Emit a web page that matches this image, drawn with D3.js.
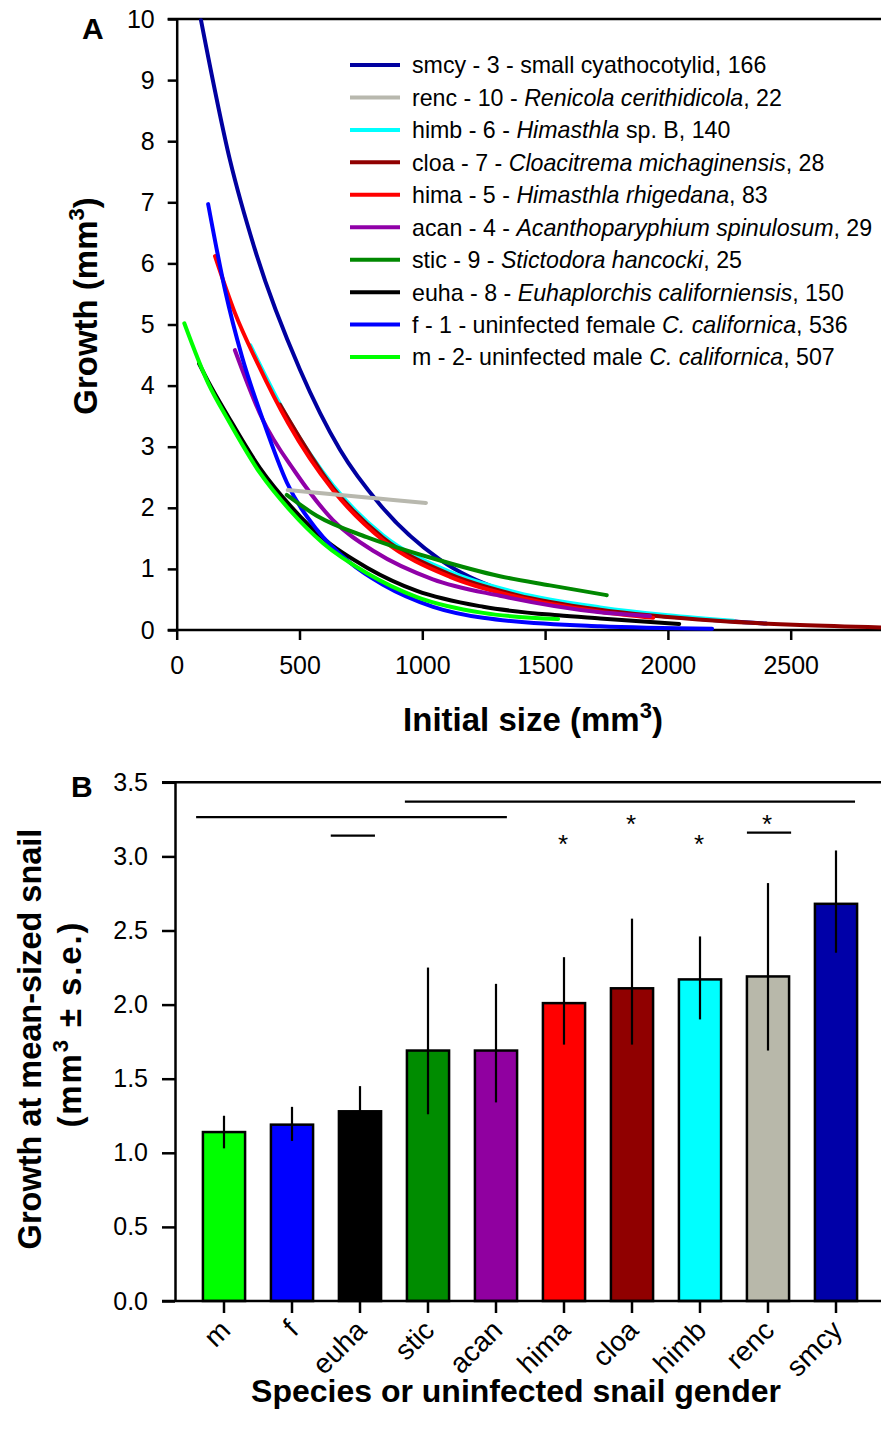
<!DOCTYPE html>
<html>
<head>
<meta charset="utf-8">
<script src="https://cdn.jsdelivr.net/npm/d3@7"></script>
<style>
  body { margin: 0; background: #fff; }
  svg { display: block; font-family: "Liberation Sans", Arial, sans-serif; }
</style>
</head>
<body>
<svg id="fig" width="881" height="1434"></svg>
<script>
// ---------------- Panel A data: fitted growth curves [initial size, growth] ----------------
const smcyCurve = [[99,9.98],[217,7.69],[319,6.22],[502,4.26],[665,2.95],[828,2.05],[1072,1.15],[1316,0.66],[1724,0.34],[2131,0.18],[2400,0.105]];
const rencCurve = [[452,2.29],[800,2.16],[1015,2.08]];
const himbCurve = [[300,4.66],[453,3.46],[636,2.37],[840,1.55],[1113,0.95],[1386,0.61],[1724,0.37],[2000,0.24],[2266,0.15]];
const cloaCurve = [[420,3.69],[636,2.33],[840,1.51],[1113,0.91],[1386,0.57],[1724,0.33],[2200,0.15],[2538,0.08],[2900,0.04]];
const himaCurve = [[156,6.12],[237,5.19],[331,4.35],[453,3.39],[636,2.29],[840,1.47],[1113,0.87],[1386,0.54],[1724,0.30],[1940,0.20]];
const acanCurve = [[237,4.58],[347,3.47],[482,2.59],[636,1.80],[807,1.28],[1043,0.83],[1316,0.56],[1724,0.29],[1927,0.23]];
const sticCurve = [[448,2.21],[570,1.87],[774,1.52],[1045,1.17],[1316,0.88],[1520,0.73],[1751,0.57]];
const euhaCurve = [[91,4.36],[128,4.07],[209,3.5],[339,2.65],[461,2.04],[596,1.5],[775,1.02],[978,0.64],[1248,0.38],[1553,0.24],[1724,0.19],[2046,0.10]];
const fCurve    = [[128,6.97],[197,5.56],[266,4.47],[351,3.44],[449,2.41],[571,1.64],[706,1.10],[840,0.74],[1044,0.38],[1247,0.20],[1724,0.06],[2180,0.02]];
const mCurve    = [[31,5.02],[128,4.04],[209,3.44],[339,2.57],[461,1.96],[596,1.42],[775,0.93],[978,0.54],[1248,0.28],[1553,0.18]];

// Legend order
const legendKeys = ["smcy","renc","himb","cloa","hima","acan","stic","euha","f","m"];
const seriesColors = {
  smcy: "#0000a0", renc: "#b8b8ae", himb: "#00ffff", cloa: "#900000", hima: "#ff0000",
  acan: "#9000a8", stic: "#008800", euha: "#000000", f: "#0000ff", m: "#00ff00"
};
const seriesCurves = {
  smcy: smcyCurve, renc: rencCurve, himb: himbCurve, cloa: cloaCurve, hima: himaCurve,
  acan: acanCurve, stic: sticCurve, euha: euhaCurve, f: fCurve, m: mCurve
};
// Painting order, bottom to top
const drawOrder = ["smcy","himb","cloa","hima","acan","euha","f","m","stic","renc"];

// Legend text pieces: [text, italic]
const legendLabels = [
  [["smcy - 3 - small cyathocotylid, 166", false]],
  [["renc - 10 - ", false], ["Renicola cerithidicola", true], [", 22", false]],
  [["himb - 6 - ", false], ["Himasthla", true], [" sp. B, 140", false]],
  [["cloa - 7 - ", false], ["Cloacitrema michaginensis", true], [", 28", false]],
  [["hima - 5 - ", false], ["Himasthla rhigedana", true], [", 83", false]],
  [["acan - 4 - ", false], ["Acanthoparyphium spinulosum", true], [", 29", false]],
  [["stic - 9 - ", false], ["Stictodora hancocki", true], [", 25", false]],
  [["euha - 8 - ", false], ["Euhaplorchis californiensis", true], [", 150", false]],
  [["f - 1 - uninfected female ", false], ["C. californica", true], [", 536", false]],
  [["m - 2- uninfected male ", false], ["C. californica", true], [", 507", false]]
];

const xTicksA = [0, 500, 1000, 1500, 2000, 2500];
const yTicksA = [0, 1, 2, 3, 4, 5, 6, 7, 8, 9, 10];

// ---------------- Panel B data: growth at mean-sized snail ----------------
const barCats   = ["m","f","euha","stic","acan","hima","cloa","himb","renc","smcy"];
const barMeans  = [1.14, 1.19, 1.28, 1.69, 1.69, 2.01, 2.11, 2.17, 2.19, 2.68];
const barErrHi  = [1.25, 1.31, 1.45, 2.25, 2.14, 2.32, 2.58, 2.46, 2.82, 3.04];
const barErrLo  = [1.03, 1.08, 1.11, 1.26, 1.34, 1.73, 1.73, 1.90, 1.69, 2.35];
const barColors = ["#00ff00","#0000ff","#000000","#008c00","#9000a0","#ff0000","#900000","#00ffff","#b8b8aa","#0000a8"];
const yTicksB   = [0, 0.5, 1.0, 1.5, 2.0, 2.5, 3.0, 3.5];

// Significance brackets (category index span) and asterisks
const sigFrom = [-0.41, 2.66, 1.57, 7.69];
const sigTo   = [4.16, 9.28, 2.22, 8.34];
const sigLevel = [3.265, 3.37, 3.14, 3.16];
const starCats = ["hima","cloa","himb","renc"];
const starLevel = [3.13, 3.26, 3.13, 3.26];

// ---------------- Drawing ----------------
const W = 881, H = 1434;
const svg = d3.select("#fig");
svg.append("rect").attr("width", W).attr("height", H).attr("fill", "#fff");

function styleAxis(g, fontSize) {
  g.selectAll("path.domain").attr("stroke", "#000").attr("stroke-width", 2.5);
  g.selectAll(".tick line").attr("stroke", "#000").attr("stroke-width", 2.5);
  g.selectAll(".tick text").attr("fill", "#000")
    .style("font-size", fontSize + "px")
    .style("font-family", '"Liberation Sans", Arial, sans-serif');
}

// ---- Panel A ----
const xA = d3.scaleLinear().domain([0, 3000]).range([176.7, 913.5]);
const yA = d3.scaleLinear().domain([0, 10]).range([630, 19]);

const gA = svg.append("g");

// frame lines running to the right edge
gA.append("line").attr("x1", xA(0) - 9).attr("x2", W).attr("y1", yA(10)).attr("y2", yA(10))
  .attr("stroke", "#000").attr("stroke-width", 2.5);
gA.append("line").attr("x1", xA(0) - 9).attr("x2", W).attr("y1", yA(0)).attr("y2", yA(0))
  .attr("stroke", "#000").attr("stroke-width", 2.5);

const yAxisA = gA.append("g").attr("transform", `translate(${xA(0)},0)`)
  .call(d3.axisLeft(yA).tickValues(yTicksA).tickSize(9).tickSizeOuter(0).tickPadding(13).tickFormat(d3.format("d")));
styleAxis(yAxisA, 25);

const xAxisA = gA.append("g").attr("transform", `translate(0,${yA(0)})`)
  .call(d3.axisBottom(xA).tickValues(xTicksA).tickSize(10).tickSizeOuter(0).tickPadding(16).tickFormat(d3.format("d")));
xAxisA.select("path.domain").remove();
styleAxis(xAxisA, 25);

// curves
const lineA = d3.line().x(d => xA(d[0])).y(d => yA(d[1])).curve(d3.curveMonotoneX);
gA.append("g").selectAll("path").data(drawOrder).join("path")
  .attr("d", k => lineA(seriesCurves[k]))
  .attr("fill", "none")
  .attr("stroke", k => seriesColors[k])
  .attr("stroke-width", 4)
  .attr("stroke-linecap", "round");

// legend
const legY0 = 65, legDy = 32.45;
const leg = gA.append("g");
legendKeys.forEach((k, i) => {
  const y = legY0 + i * legDy;
  leg.append("line").attr("x1", 350).attr("x2", 400).attr("y1", y).attr("y2", y)
    .attr("stroke", seriesColors[k]).attr("stroke-width", 4);
  const t = leg.append("text").attr("x", 412).attr("y", y).attr("dy", "0.36em")
    .style("font-size", "23.2px").attr("fill", "#000");
  legendLabels[i].forEach(([s, it]) => {
    t.append("tspan").text(s).style("font-style", it ? "italic" : "normal");
  });
});

// panel letter and titles
svg.append("text").attr("x", 82).attr("y", 38.5).text("A")
  .style("font-size", "30px").style("font-weight", "bold");

const xtA = svg.append("text").attr("x", 533).attr("y", 731).attr("text-anchor", "middle")
  .style("font-size", "33px").style("font-weight", "bold");
xtA.append("tspan").text("Initial size (mm");
xtA.append("tspan").text("3").style("font-size", "22px").attr("dy", "-13");
xtA.append("tspan").text(")").attr("dy", "13");

const ytA = svg.append("text").attr("transform", "translate(97,306) rotate(-90)")
  .attr("text-anchor", "middle").style("font-size", "33px").style("font-weight", "bold");
ytA.append("tspan").text("Growth (mm");
ytA.append("tspan").text("3").style("font-size", "22px").attr("dy", "-13");
ytA.append("tspan").text(")").attr("dy", "13");

// ---- Panel B ----
const yB = d3.scaleLinear().domain([0, 3.5]).range([1301, 782.3]);
const xB = d3.scaleBand().domain(barCats).range([190, 870]).paddingInner(0.38).paddingOuter(0.19);
const cx = c => xB(c) + xB.bandwidth() / 2;
const idxX = d3.scaleLinear().domain([0, barCats.length - 1]).range([cx(barCats[0]), cx(barCats[barCats.length - 1])]);

const gB = svg.append("g");
gB.append("line").attr("x1", 162).attr("x2", W).attr("y1", yB(3.5)).attr("y2", yB(3.5))
  .attr("stroke", "#000").attr("stroke-width", 2.5);

// bars
gB.append("g").selectAll("rect").data(barCats).join("rect")
  .attr("x", d => xB(d)).attr("width", xB.bandwidth())
  .attr("y", (d, i) => yB(barMeans[i]))
  .attr("height", (d, i) => yB(0) - yB(barMeans[i]))
  .attr("fill", (d, i) => barColors[i])
  .attr("stroke", "#000").attr("stroke-width", 2.5);

// error bars
gB.append("g").selectAll("line").data(barCats).join("line")
  .attr("x1", d => cx(d)).attr("x2", d => cx(d))
  .attr("y1", (d, i) => yB(barErrLo[i])).attr("y2", (d, i) => yB(barErrHi[i]))
  .attr("stroke", "#000").attr("stroke-width", 2.2);

// axes
const yAxisB = gB.append("g").attr("transform", `translate(175,0)`)
  .call(d3.axisLeft(yB).tickValues(yTicksB).tickSize(13).tickSizeOuter(0).tickPadding(14).tickFormat(d3.format(".1f")));
styleAxis(yAxisB, 25);

gB.append("line").attr("x1", 162).attr("x2", W).attr("y1", yB(0)).attr("y2", yB(0))
  .attr("stroke", "#000").attr("stroke-width", 2.5);

const xAxisB = gB.append("g").attr("transform", `translate(0,${yB(0)})`)
  .call(d3.axisBottom(xB).tickSize(12).tickSizeOuter(0));
xAxisB.select("path.domain").remove();
styleAxis(xAxisB, 28);
xAxisB.selectAll(".tick text")
  .attr("text-anchor", "end").attr("dy", null).attr("y", null)
  .attr("transform", "translate(8,31) rotate(-45)");

// significance brackets
gB.append("g").selectAll("line").data(sigFrom).join("line")
  .attr("x1", (d, i) => idxX(sigFrom[i])).attr("x2", (d, i) => idxX(sigTo[i]))
  .attr("y1", (d, i) => yB(sigLevel[i])).attr("y2", (d, i) => yB(sigLevel[i]))
  .attr("stroke", "#000").attr("stroke-width", 2.2);

gB.append("g").selectAll("text").data(starCats).join("text")
  .attr("x", d => cx(d) - 1).attr("y", (d, i) => yB(starLevel[i]))
  .attr("dy", "0.6em").attr("text-anchor", "middle")
  .style("font-size", "26px").text("*");

svg.append("text").attr("x", 71).attr("y", 796.5).text("B")
  .style("font-size", "30px").style("font-weight", "bold");

svg.append("text").attr("transform", "translate(41,1039) rotate(-90)")
  .attr("text-anchor", "middle").style("font-size", "32.5px").style("font-weight", "bold")
  .text("Growth at mean-sized snail");
const ytB2 = svg.append("text").attr("transform", "translate(81,1025) rotate(-90)")
  .attr("text-anchor", "middle").style("font-size", "33px").style("font-weight", "bold")
  .attr("textLength", 205).attr("lengthAdjust", "spacing");
ytB2.append("tspan").text("(mm");
ytB2.append("tspan").text("3").style("font-size", "22px").attr("dy", "-13");
ytB2.append("tspan").text(" \u00b1 s.e.)").attr("dy", "13");

svg.append("text").attr("x", 516).attr("y", 1402).attr("text-anchor", "middle")
  .style("font-size", "32px").style("font-weight", "bold")
  .text("Species or uninfected snail gender");
</script>
</body>
</html>
